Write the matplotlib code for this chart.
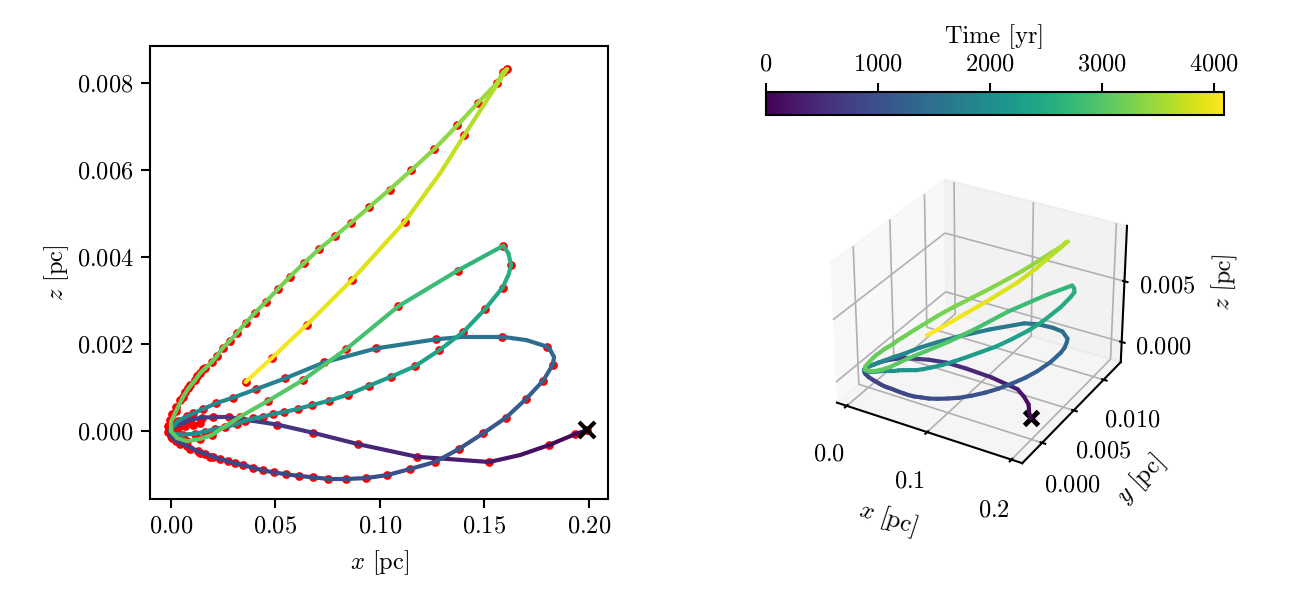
import numpy as np
import matplotlib
matplotlib.use("Agg")
import matplotlib.pyplot as plt
from matplotlib.collections import LineCollection
from matplotlib.cm import ScalarMappable
from matplotlib.colors import Normalize
from mpl_toolkits.mplot3d.art3d import Line3DCollection

plt.rcParams['font.family'] = ['cmr10', 'DejaVu Sans']
plt.rcParams['mathtext.fontset'] = 'cm'
plt.rcParams['axes.formatter.use_mathtext'] = True
plt.rcParams['axes.unicode_minus'] = False
plt.rcParams['font.size'] = 11.7
plt.rcParams['xtick.major.size'] = 4.3
plt.rcParams['ytick.major.size'] = 4.3
plt.rcParams['xtick.major.width'] = 1.0
plt.rcParams['ytick.major.width'] = 1.0
plt.rcParams['axes.linewidth'] = 1.0

# time along the orbit [yr], one entry per red sample
time_yr = [
    0, 41, 123, 266, 389, 491, 573, 634, 695, 716,
    728, 740, 748, 757, 765, 773, 781, 789, 802, 810,
    818, 830, 838, 847, 855, 863, 871, 879, 892, 900,
    912, 924, 941, 961, 982, 1010, 1043, 1084, 1125, 1166,
    1219, 1268, 1329, 1391, 1513, 1616, 1677, 1738, 1800, 1841,
    1881, 1902, 1922, 1939, 1951, 1963, 1971, 1980, 1992, 2000,
    2008, 2016, 2025, 2037, 2045, 2057, 2070, 2082, 2094, 2106,
    2127, 2147, 2168, 2196, 2229, 2262, 2299, 2339, 2380, 2421,
    2474, 2544, 2618, 2740, 2843, 2924, 2986, 3027, 3047, 3068,
    3076, 3084, 3092, 3100, 3108, 3117, 3125, 3133, 3141, 3149,
    3157, 3166, 3174, 3182, 3190, 3198, 3207, 3215, 3223, 3231,
    3243, 3256, 3272, 3288, 3305, 3325, 3346, 3370, 3395, 3427,
    3460, 3497, 3517, 3558, 3701, 3824, 3926, 3988, 4041, 4090,
]
x_pc = [
    .1990, .1933, .1809, .1523, .1178, .0896, .0681, .0509, .0278, .0201,
    .0147, .0091, .0057, .0019, -.0005, -.0002, .0024, .0075, .0129, .0163,
    .0202, .0234, .0274, .0306, .0346, .0391, .0439, .0493, .0549, .0612,
    .0678, .0753, .0837, .0933, .1035, .1144, .1263, .1378, .1494, .1603,
    .1697, .1781, .1826, .1800, .1582, .1267, .0981, .0733, .0545, .0405,
    .0298, .0215, .0155, .0107, .0075, .0033, .0010, -.0002, .0014, .0057,
    .0115, .0163, .0211, .0258, .0314, .0354, .0394, .0439, .0487, .0542,
    .0606, .0676, .0757, .0848, .0946, .1053, .1167, .1284, .1399, .1502,
    .1587, .1627, .1590, .1372, .1088, .0837, .0630, .0466, .0330, .0195,
    .0139, .0077, .0029, 0, 0, .0024, .0057, .0083, .0115, .0139,
    .0163, .0195, .0219, .0247, .0282, .0317, .0357, .0402, .0453, .0511,
    .0569, .0636, .0708, .0785, .0860, .0949, .1046, .1148, .1260, .1370,
    .1470, .1558, .1589, .1608, .1403, .1118, .0865, .0649, .0485, .0357,
]
z_pc = [
    .00002, -.00007, -.00032, -.00071, -.00059, -.00030, -.00004, .00015, .00032, .00032,
    .00031, .00026, .00018, .00011, .00002, -.00011, -.00023, -.00034, -.00046, -.00052,
    -.00059, -.00064, -.00069, -.00074, -.00078, -.00084, -.00090, -.00095, -.00099, -.00103,
    -.00106, -.00110, -.00110, -.00108, -.00101, -.00087, -.00071, -.00041, -.00005, .00031,
    .00073, .00116, .00152, .00194, .00217, .00211, .00190, .00158, .00121, .00096,
    .00077, .00064, .00051, .00041, .00034, .00023, .00010, 0, -.00007, -.00008,
    -.00006, -.00001, .00005, .00009, .00016, .00024, .00029, .00033, .00039, .00044,
    .00051, .00060, .00070, .00084, .00104, .00125, .00149, .00186, .00228, .00280,
    .00330, .00382, .00426, .00369, .00287, .00188, .00117, .00070, .00033, -.00009,
    -.00018, -.00023, -.00016, 0, .00021, .00046, .00078, .00098, .00117, .00133,
    .00144, .00159, .00172, .00191, .00208, .00226, .00249, .00272, .00297, .00326,
    .00355, .00386, .00418, .00448, .00478, .00515, .00555, .00599, .00648, .00703,
    .00755, .00799, .00825, .00832, .00680, .00481, .00347, .00244, .00169, .00113,
]
y_mpc = [
    0, .5, 2, 4, 4.3, 4, 3.6, 3, 2, 1.5,
    1.1, .6, .3, -.1, -.4, -.5, -.6, -.7, -.7, -.7,
    -.7, -.7, -.7, -.65, -.6, -.55, -.5, -.45, -.4, -.3,
    -.1, .1, .4, .8, 1.2, 1.7, 2.4, 2.9, 3.5, 4.2,
    4.8, 5.8, 6.8, 8.2, 8.7, 8.3, 6.5, 5, 4, 3,
    1.9, 1.2, .7, .3, 0, -.2, -.4, -.5, -.5, -.4,
    -.2, 0, .1, .2, .3, .4, .5, .6, .7, .8,
    1.1, 1.5, 2, 2.7, 3.4, 4.3, 5.2, 6.2, 7.2, 8,
    9.9, 11.6, 11.7, 10.3, 8, 6, 4.4, 3.2, 2.2, 1,
    .5, .1, -.2, -.4, -.3, -.1, .2, .4, .6, .8,
    1, 1.2, 1.4, 1.6, 1.8, 2, 2.2, 2.5, 2.8, 3.2,
    3.6, 4, 4.4, 4.9, 5.4, 5.9, 6.5, 7.2, 8, 8.8,
    9.6, 10.2, 10.4, 10.5, 10.3, 9.1, 7.9, 6.6, 5.4, 4.5,
]

# extra points on the curve at its bends, they carry no red dot
bend_t = [190, 1350, 1372, 1450, 1575, 2515, 2585, 3760]
bend_x = [.1670, .1833, .1816, .1702, .1407, .1617, .1615, .1287]
bend_z = [-.00055, .00170, .00185, .00209, .00217, .00362, .00408, .00592]
bend_y = [3.1, 7.3, 7.9, 8.7, 8.6, 11.1, 11.7, 9.8]

# red samples bunched up around the closest approach, seen only as a rim
rim_x = [-.0012, -.0012, -.0005, .0007, .0024, .0043, .0065, .0091, .0124, .0153,
         .0005, .0043, .0091, .0139, .0187, .0033, .0067, .0105, .0139]
rim_z = [-.00002, .00011, .00025, .00039, .00055, .00071, .00090, .00107, .00126, .00143,
         -.00016, -.00030, -.00041, -.00050, -.00060, .00007, .00011, .00015, .00018]

dot_x = np.array(x_pc + rim_x)
dot_z = np.array(z_pc + rim_z)

t = np.array(time_yr + bend_t, dtype=float)
order = np.argsort(t)
t = t[order]
x = np.array(x_pc + bend_x)[order]
z = np.array(z_pc + bend_z)[order]
y = np.array(y_mpc + bend_y)[order] * 1e-3

W, H = 1306, 590
fig = plt.figure(figsize=(W / 150, H / 150), dpi=150)
norm = Normalize(0, 4090)
colors = plt.cm.viridis(norm(0.5 * (t[1:] + t[:-1])))

# x-z projection
ax = fig.add_axes([150 / W, 1 - 499 / H, 458 / W, 453 / H])
ax.plot(dot_x, dot_z, 'o', color='red', ms=4.2, mew=0, zorder=1)
pts = np.column_stack([x, z])
segs = np.stack([pts[:-1], pts[1:]], axis=1)
ax.add_collection(LineCollection(segs, colors=colors, linewidths=2, capstyle='round', zorder=2))
ax.plot(x[0], z[0], 'x', color='k', ms=8, mew=2, zorder=3)
ax.set_xlim(-0.01005, 0.2091)
ax.set_ylim(-0.00156, 0.00885)
ax.set_xticks([0, 0.05, 0.10, 0.15, 0.20])
ax.set_yticks([0, 0.002, 0.004, 0.006, 0.008])
ax.set_xlabel('$x$ [pc]', labelpad=5)
ax.set_ylabel('$z$ [pc]', labelpad=3)

# colorbar
cax = fig.add_axes([766 / W, 1 - 115 / H, 458 / W, 23 / H])
cb = fig.colorbar(ScalarMappable(norm=norm, cmap='viridis'), cax=cax, orientation='horizontal')
cb.set_ticks([0, 1000, 2000, 3000, 4000])
cax.xaxis.set_ticks_position('top')
cax.xaxis.set_label_position('top')
cb.set_label('Time [yr]', labelpad=5)

# 3D view
ax3 = fig.add_axes([(977 - 165) / W, 1 - (319 + 165) / H, 330 / W, 330 / H], projection='3d')
pts3 = np.column_stack([x, y, z])
segs3 = np.stack([pts3[:-1], pts3[1:]], axis=1)
ax3.add_collection3d(Line3DCollection(segs3, colors=colors, linewidths=2, capstyle='round'))
ax3.plot([x[0]], [y[0]], [z[0]], 'x', color='k', ms=6.5, mew=2.4)
ax3.set_xlim(-0.0125, 0.2125, view_margin=0)
ax3.set_ylim(-0.003, 0.013, view_margin=0)
ax3.set_zlim(-0.0017, 0.0094, view_margin=0)
ax3.set_xticks([0, 0.1, 0.2])
ax3.set_yticks([0, 0.005, 0.010])
ax3.set_zticks([0, 0.005])
ax3.tick_params(axis='x', pad=5)
ax3.tick_params(axis='y', pad=5)
ax3.tick_params(axis='z', pad=4.6)
ax3.set_xlabel('$x$ [pc]', labelpad=8)
ax3.set_ylabel('$y$ [pc]', labelpad=8.5)
ax3.set_zlabel('$z$ [pc]', labelpad=9)

fig.savefig('out.png', dpi=150)
